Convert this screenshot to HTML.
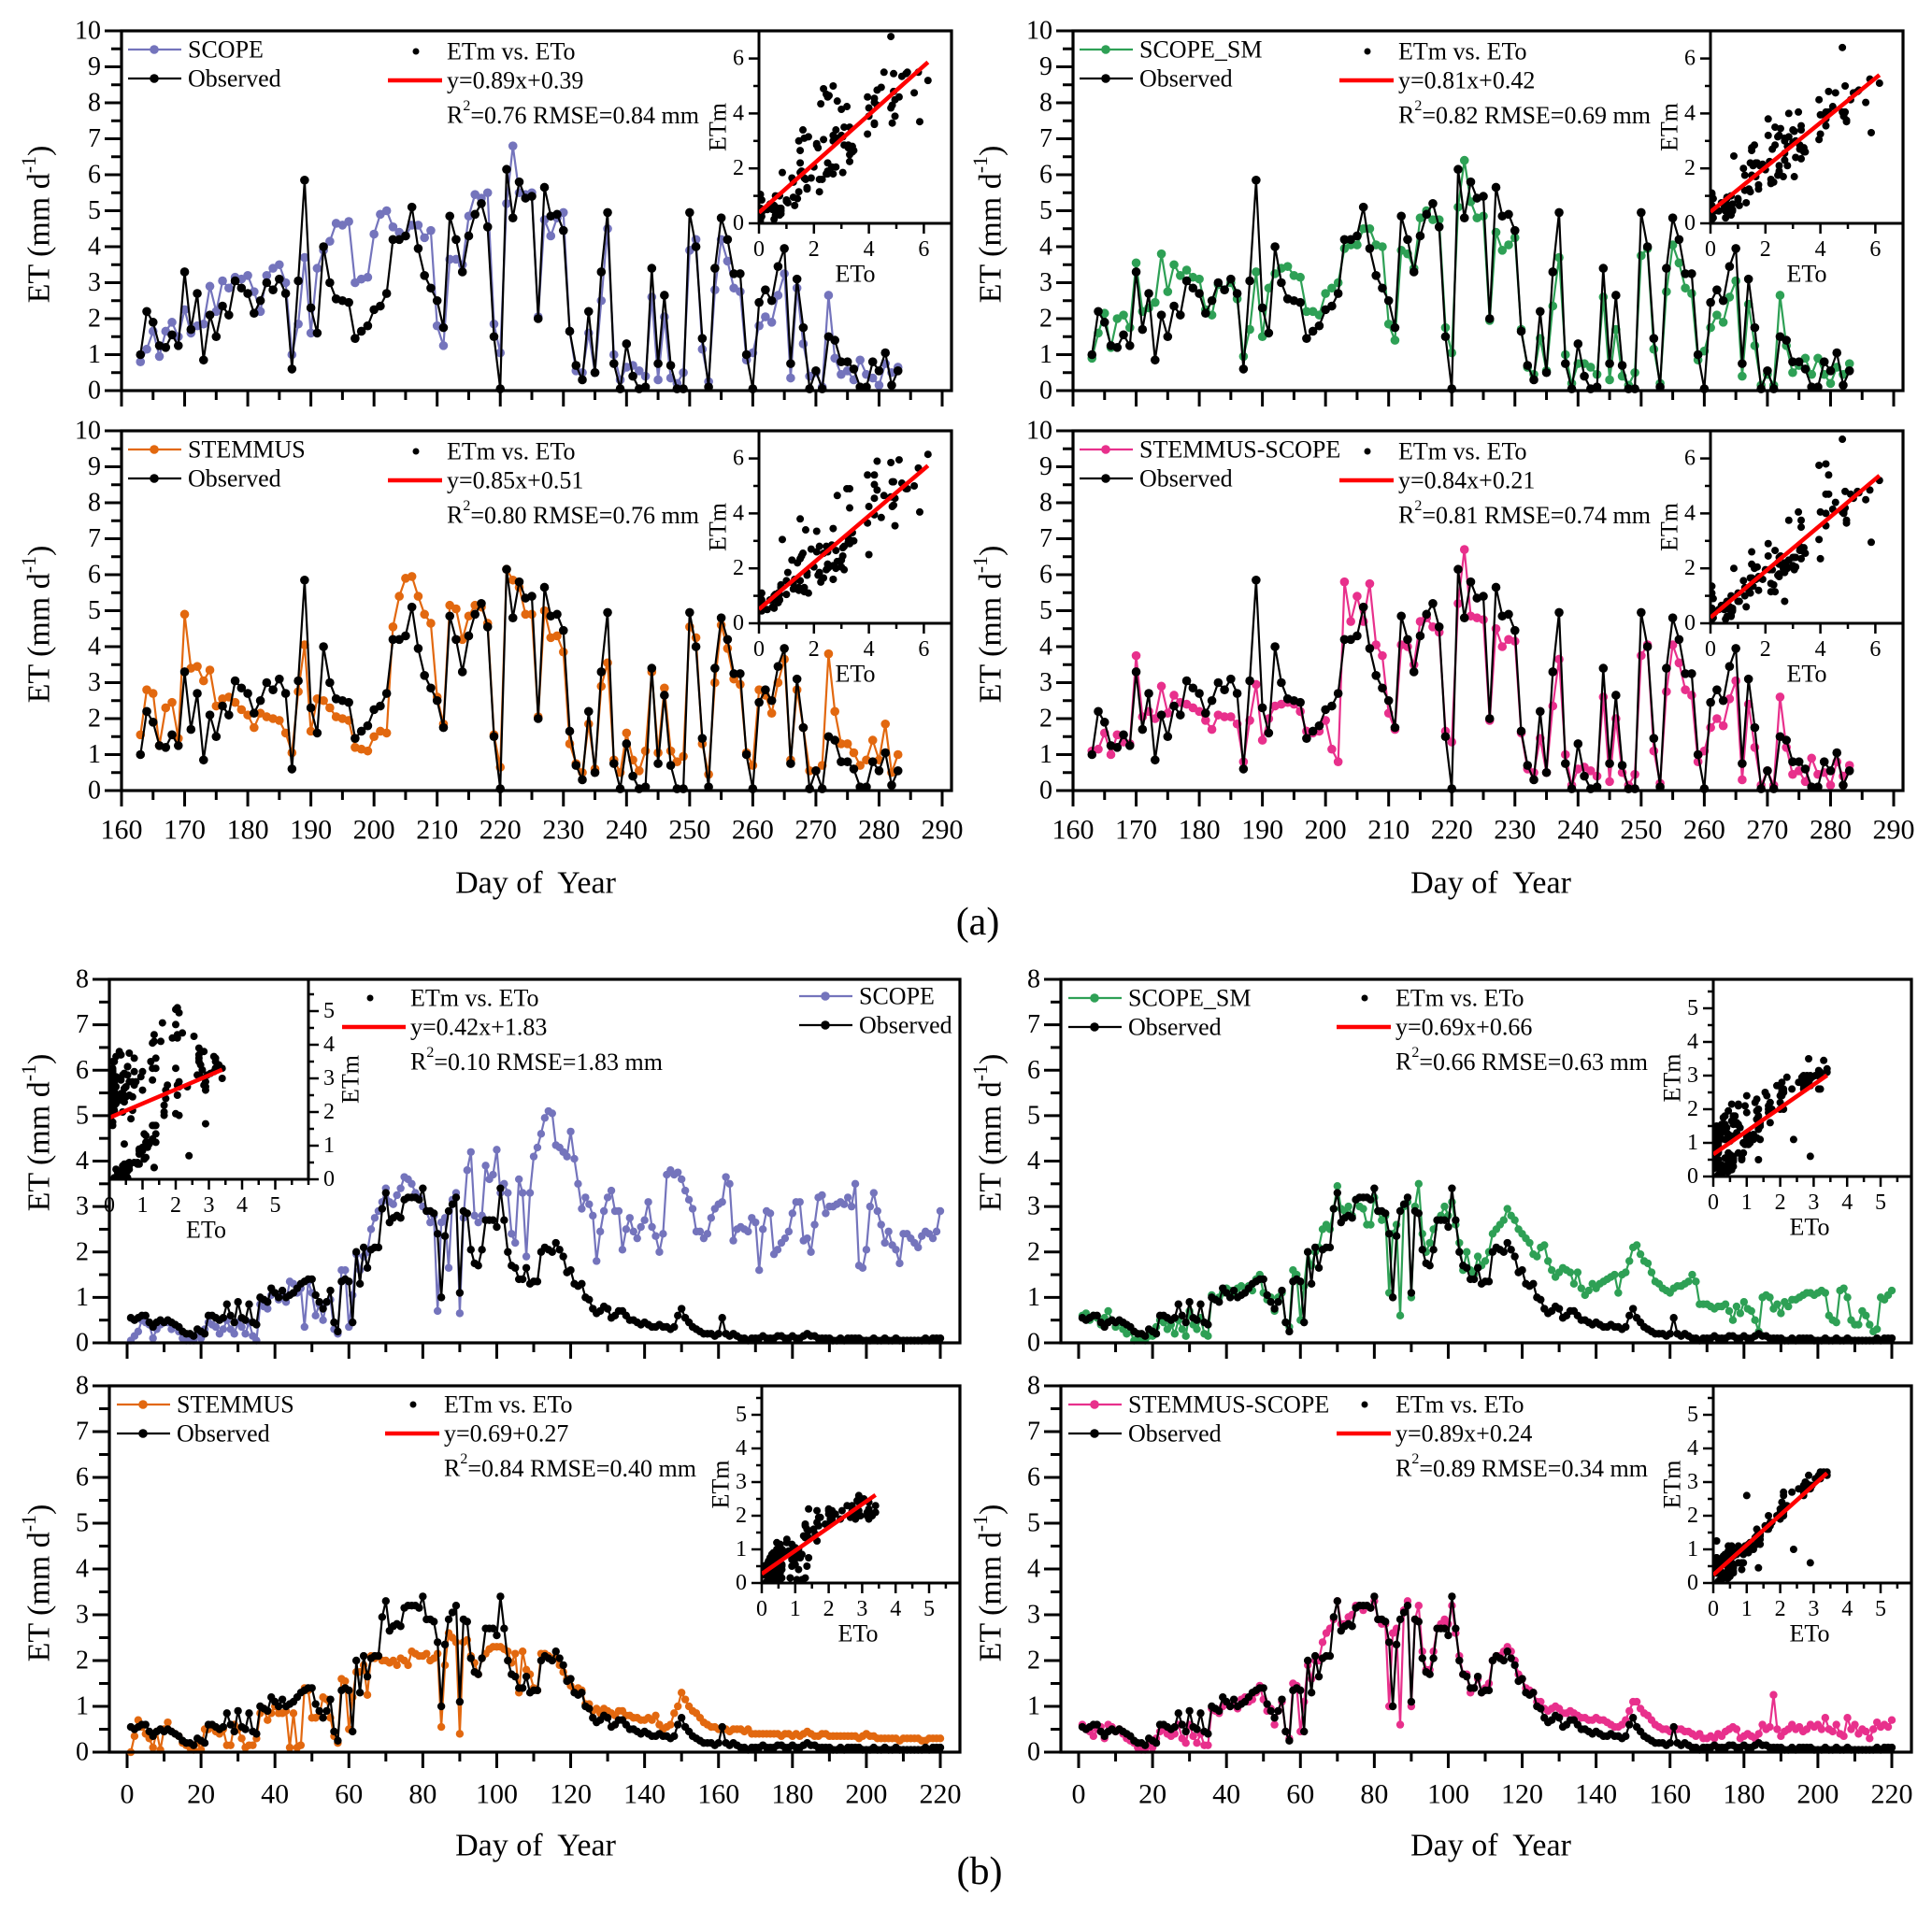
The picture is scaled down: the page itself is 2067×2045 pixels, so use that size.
<!DOCTYPE html>
<html><head><meta charset="utf-8">
<style>
html,body{margin:0;padding:0;background:#fff;}
svg{display:block;font-family:"Liberation Serif","DejaVu Serif",serif;}
svg text{font-family:"Liberation Serif","DejaVu Serif",serif;}
</style></head>
<body>
<svg id="fig" width="2067" height="2045" viewBox="0 0 2067 2045" xmlns="http://www.w3.org/2000/svg" font-family="Liberation Serif, DejaVu Serif, serif"></svg>
<script>
// ---------------- data (a): days 163..283 ----------------
const aStartDay = 163;
const obsA = [1.0,2.2,1.9,1.25,1.2,1.55,1.25,3.3,1.7,2.7,0.85,2.1,1.5,2.35,2.1,3.05,2.85,2.7,2.15,2.5,3.0,2.8,3.1,2.7,0.6,3.05,5.85,2.3,1.6,4.0,3.0,2.55,2.5,2.45,1.45,1.65,1.8,2.25,2.35,2.7,4.2,4.2,4.3,5.1,3.95,3.2,2.85,2.5,1.75,4.85,4.2,3.3,4.3,4.9,5.2,4.55,1.5,0.05,6.15,4.8,5.8,5.35,5.4,2.0,5.65,4.85,4.9,4.45,1.65,0.7,0.3,2.2,0.5,3.3,4.95,0.75,0.05,1.3,0.4,0.05,0.1,3.4,0.75,2.65,0.7,0.05,0.05,4.95,4.0,1.45,0.1,3.4,4.8,4.2,3.25,3.25,1.0,0.05,2.45,2.8,2.5,3.45,3.95,0.75,3.1,1.75,0.05,0.55,0.05,1.5,1.4,0.8,0.8,0.6,0.1,0.1,0.8,0.55,1.05,0.15,0.55];
const scopeA = [0.8,1.15,1.65,0.95,1.65,1.9,1.5,2.25,1.6,1.8,1.85,2.9,2.2,3.05,2.85,3.15,3.1,3.2,2.75,2.2,3.2,3.4,3.5,3.0,1.0,1.85,3.7,1.6,3.4,3.9,4.15,4.65,4.6,4.7,3.0,3.1,3.15,4.35,4.9,5.0,4.55,4.4,4.3,4.6,4.6,4.25,4.45,1.8,1.25,3.65,3.65,3.5,4.85,5.45,5.35,5.5,1.85,1.05,5.2,6.8,5.5,5.45,5.5,2.05,4.75,4.3,4.8,4.95,1.65,0.55,0.5,1.6,0.5,2.5,4.5,1.0,0.3,0.65,0.7,0.55,0.4,2.6,0.3,2.05,0.35,0.2,0.5,3.9,4.2,1.15,0.25,2.8,4.2,3.6,2.85,2.75,0.85,1.05,1.8,2.05,1.9,2.65,3.25,0.35,2.85,1.3,0.4,0.5,0.1,2.65,0.9,0.45,0.55,0.3,0.85,0.45,0.35,0.15,0.75,0.5,0.65];
const scopeSmA = [0.9,1.6,2.15,1.2,2.0,2.1,1.75,3.55,2.2,2.3,2.45,3.8,2.75,3.5,3.2,3.35,3.15,3.1,2.25,2.1,2.95,2.8,3.0,2.55,0.95,1.7,3.3,1.5,2.85,3.25,3.4,3.45,3.2,3.15,2.2,2.2,2.1,2.7,2.85,3.0,3.95,4.05,4.05,4.5,4.5,4.05,4.0,1.85,1.4,3.9,3.8,3.4,4.8,5.0,4.75,4.75,1.75,1.05,5.1,6.4,5.25,4.8,4.85,1.95,4.4,3.9,4.05,4.25,1.7,0.65,0.45,1.45,0.55,2.35,3.7,1.0,0.2,0.75,0.75,0.65,0.45,2.6,0.3,1.7,0.4,0.15,0.5,3.75,3.95,1.15,0.2,2.75,4.05,3.55,2.85,2.7,0.85,1.1,1.75,2.1,1.9,2.6,3.05,0.4,2.4,1.25,0.15,0.45,0.15,2.65,1.25,0.5,0.7,0.9,0.45,0.9,0.45,0.2,0.65,0.45,0.75];
const stemmusA = [1.55,2.8,2.7,1.25,2.3,2.45,1.45,4.9,3.4,3.45,3.05,3.35,2.35,2.55,2.6,2.45,2.25,2.1,1.75,2.15,2.05,2.0,1.95,1.6,1.05,2.75,4.05,1.65,2.55,2.5,2.3,2.05,2.0,1.95,1.2,1.15,1.1,1.5,1.65,1.6,4.55,5.4,5.9,5.95,5.4,4.9,4.65,2.6,1.85,5.15,5.05,4.2,4.85,5.15,5.1,4.65,1.55,0.65,6.15,5.85,5.65,4.9,4.9,2.05,5.0,4.25,4.3,3.85,1.3,0.75,0.5,1.85,0.6,2.9,3.55,0.85,0.5,1.6,0.85,0.55,1.1,3.3,1.05,2.85,1.1,0.8,0.95,4.55,4.25,1.3,0.45,3.0,4.6,3.95,3.1,2.95,1.05,0.7,2.8,2.65,2.15,3.0,3.65,0.85,2.8,1.75,0.55,0.55,0.7,3.8,2.2,1.3,1.3,1.05,0.7,0.85,1.4,0.85,1.85,0.5,1.0];
const ssA = [1.1,1.15,1.6,1.0,1.55,1.35,1.3,3.75,2.05,2.2,2.0,2.9,2.15,2.65,2.45,2.4,2.3,2.2,1.95,1.7,2.1,2.05,2.05,1.85,0.8,1.95,2.95,1.4,2.0,2.35,2.4,2.45,2.4,2.2,1.65,1.6,1.65,1.95,1.15,0.8,5.8,4.7,5.4,4.7,5.75,4.05,3.75,2.15,1.7,4.05,4.0,3.5,4.7,4.8,4.55,4.4,1.65,1.35,5.2,6.7,4.85,4.8,4.75,1.95,4.5,4.0,4.2,4.15,1.6,0.6,0.5,1.45,0.5,2.35,3.65,1.0,0.15,0.6,0.65,0.55,0.4,2.6,0.25,2.0,0.5,0.15,0.45,3.75,4.05,1.1,0.2,2.75,4.05,3.55,2.8,2.65,0.8,1.1,1.75,2.0,1.8,2.55,3.05,0.3,2.4,1.2,0.15,0.55,0.15,2.6,1.2,0.45,0.55,0.25,0.9,0.45,0.5,0.15,0.8,0.4,0.7];

// ---------------- data (b): days 1..220 ----------------
const bStartDay = 1;
const obsB = [0.55,0.5,0.55,0.6,0.6,0.45,0.35,0.45,0.5,0.45,0.5,0.45,0.4,0.35,0.25,0.2,0.2,0.15,0.3,0.25,0.2,0.6,0.6,0.55,0.5,0.55,0.85,0.6,0.45,0.9,0.55,0.5,0.85,0.45,0.4,1.0,0.95,0.9,1.2,1.1,1.0,1.15,1.0,1.05,1.1,1.2,1.3,1.35,1.4,1.4,1.05,0.9,0.75,0.9,1.15,0.45,0.25,1.35,1.4,1.35,0.45,2.0,1.3,2.1,1.65,2.05,2.1,2.1,2.95,3.3,2.65,2.75,2.8,2.75,3.15,3.2,3.2,3.2,3.15,3.4,2.9,2.9,2.85,2.4,1.0,2.35,2.9,3.05,3.2,1.1,2.9,2.85,2.05,1.75,1.7,2.05,2.7,2.7,2.7,2.55,3.4,2.7,2.0,1.7,1.65,1.4,1.4,1.65,1.3,1.35,1.35,2.0,2.1,2.05,2.0,2.2,2.05,1.9,1.55,1.6,1.3,1.25,1.3,1.0,0.95,0.75,0.65,0.7,0.8,0.75,0.55,0.6,0.7,0.7,0.6,0.5,0.5,0.45,0.4,0.45,0.4,0.35,0.35,0.4,0.35,0.35,0.3,0.35,0.6,0.75,0.55,0.45,0.35,0.3,0.25,0.2,0.2,0.2,0.15,0.2,0.55,0.2,0.15,0.2,0.15,0.1,0.1,0.05,0.1,0.1,0.1,0.15,0.1,0.1,0.1,0.15,0.15,0.1,0.1,0.15,0.1,0.1,0.15,0.2,0.15,0.15,0.1,0.1,0.1,0.1,0.05,0.05,0.1,0.05,0.1,0.1,0.1,0.1,0.05,0.05,0.05,0.1,0.05,0.05,0.1,0.05,0.05,0.1,0.05,0.05,0.05,0.05,0.05,0.05,0.05,0.1,0.05,0.1,0.1,0.1];
const scopeB = [0.05,0.15,0.25,0.5,0.45,0.4,0.1,0.3,0.4,0.45,0.45,0.3,0.4,0.25,0.1,0.05,0.05,0.05,0.2,0.1,0.3,0.45,0.4,0.35,0.2,0.3,0.5,0.3,0.2,0.45,0.35,0.2,0.45,0.15,0.05,0.85,0.8,0.75,1.05,1.1,0.95,1.1,0.9,1.35,1.3,1.1,1.2,0.35,1.35,1.1,0.6,0.85,0.5,0.9,0.95,0.3,0.2,1.6,1.6,0.35,1.05,1.95,1.6,1.9,2.0,2.5,2.75,2.9,3.1,3.4,3.1,3.05,3.25,3.4,3.65,3.6,3.5,3.3,3.2,3.0,2.9,2.65,2.8,0.7,2.65,2.75,1.65,3.15,3.3,0.65,2.75,3.8,4.2,2.8,2.65,2.8,3.9,3.6,3.7,4.25,3.3,3.5,3.3,2.4,2.2,3.6,3.3,1.9,3.3,4.1,4.3,4.6,4.95,5.1,5.05,4.35,4.3,4.2,4.1,4.65,4.05,3.5,2.95,3.2,3.05,2.8,1.8,2.45,2.9,3.2,3.35,2.9,2.9,2.05,2.5,2.75,2.45,2.3,2.55,2.7,3.1,2.55,2.35,2.0,2.4,3.7,3.8,3.7,3.75,3.6,3.35,3.15,2.95,2.45,2.45,2.3,2.4,2.75,2.95,3.05,3.1,3.65,3.5,2.25,2.5,2.55,2.5,2.45,2.75,2.65,1.6,2.5,2.9,2.85,1.95,2.05,2.2,2.3,2.45,2.85,3.1,3.1,2.25,2.3,2.0,2.6,3.2,3.25,2.85,3.0,3.0,3.05,3.1,3.05,3.2,3.0,3.5,1.7,1.65,2.05,3.0,3.3,2.9,2.6,2.2,2.45,2.15,2.05,1.75,2.4,2.4,2.3,2.2,2.1,2.35,2.45,2.4,2.3,2.45,2.9];
const scopeSmB = [0.6,0.65,0.5,0.6,0.55,0.4,0.55,0.7,0.5,0.35,0.45,0.3,0.2,0.25,0.05,0.1,0.1,0.05,0.15,0.15,0.35,0.5,0.45,0.3,0.4,0.2,0.5,0.3,0.15,0.7,0.4,0.3,0.55,0.2,0.15,1.05,0.95,1.0,1.1,1.2,1.15,1.1,1.2,1.25,1.2,1.25,1.15,1.4,1.5,1.1,0.95,1.0,0.7,1.0,1.1,0.45,0.35,1.6,1.5,0.5,1.25,2.0,1.7,2.0,2.1,2.5,2.6,2.5,2.95,3.45,2.95,2.9,3.0,2.8,3.15,3.0,2.95,2.6,2.6,3.2,2.9,2.7,2.8,1.1,2.4,2.6,0.6,3.0,3.1,1.0,3.0,3.5,2.4,2.0,2.2,2.5,2.7,2.8,3.0,2.8,3.1,2.6,2.2,1.6,2.0,1.6,1.5,1.9,1.7,1.8,2.0,2.4,2.5,2.6,2.7,2.95,2.8,2.7,2.5,2.4,2.3,2.2,1.95,1.9,2.1,2.15,1.8,1.6,1.45,1.55,1.65,1.6,1.55,1.3,1.55,1.2,1.05,1.15,1.3,1.2,1.3,1.35,1.4,1.45,1.5,1.1,1.5,1.55,1.8,2.1,2.15,1.95,1.8,1.75,1.55,1.35,1.3,1.2,1.15,1.1,1.2,1.25,1.25,1.3,1.35,1.5,1.35,0.85,0.85,0.85,0.8,0.75,0.8,0.8,0.85,0.7,0.5,0.8,0.65,0.9,0.75,0.7,0.5,0.25,1.0,1.05,1.0,0.75,0.85,0.65,0.9,0.8,0.95,0.95,1.0,1.05,1.1,1.1,1.05,1.1,1.15,1.1,0.6,0.5,0.45,1.15,1.2,1.0,0.5,0.4,0.4,0.7,0.6,0.4,0.25,0.3,1.0,0.95,1.05,1.15];
const stemmusB = [0.0,0.35,0.7,0.55,0.4,0.3,0.1,0.45,0.05,0.5,0.65,0.45,0.4,0.35,0.2,0.15,0.1,0.05,0.2,0.05,0.5,0.5,0.55,0.45,0.4,0.5,0.15,0.15,0.6,0.5,0.3,0.1,0.15,0.15,0.3,0.85,0.95,0.7,0.85,1.0,0.85,0.85,0.9,0.1,0.85,0.1,0.15,1.4,1.35,0.75,0.75,0.8,1.2,1.15,0.75,0.35,0.2,1.6,1.55,0.5,1.2,1.75,1.75,1.9,1.25,2.1,2.05,2.1,2.0,2.0,1.95,2.0,1.9,2.05,2.0,1.9,2.2,2.15,2.1,2.1,2.15,2.0,2.05,2.15,0.55,1.9,2.6,2.5,2.4,0.4,2.4,2.45,2.1,1.95,1.7,2.05,2.15,2.25,2.3,2.3,2.3,2.25,2.2,1.95,2.15,1.3,2.2,1.8,1.7,1.4,1.35,2.15,2.15,2.1,2.05,2.05,1.9,1.75,1.6,1.45,1.35,1.4,1.35,1.05,1.05,0.9,0.95,0.85,0.95,0.9,0.85,0.8,0.9,0.9,0.8,0.8,0.75,0.75,0.7,0.7,0.75,0.7,0.8,0.6,0.5,0.55,0.6,0.85,1.0,1.3,1.15,1.0,0.9,0.85,0.75,0.65,0.6,0.55,0.55,0.5,0.5,0.5,0.45,0.5,0.5,0.5,0.45,0.5,0.4,0.4,0.4,0.4,0.4,0.4,0.4,0.4,0.35,0.4,0.4,0.35,0.4,0.35,0.4,0.45,0.4,0.35,0.35,0.4,0.4,0.35,0.35,0.35,0.35,0.35,0.35,0.35,0.35,0.3,0.35,0.4,0.35,0.35,0.3,0.3,0.3,0.3,0.3,0.3,0.25,0.3,0.3,0.3,0.3,0.3,0.25,0.25,0.3,0.3,0.3,0.3];
const ssB = [0.6,0.5,0.45,0.35,0.5,0.55,0.3,0.6,0.55,0.45,0.5,0.4,0.3,0.25,0.2,0.1,0.05,0.05,0.15,0.1,0.3,0.45,0.5,0.4,0.35,0.4,0.6,0.3,0.2,0.6,0.35,0.2,0.4,0.15,0.15,0.95,0.9,0.85,1.0,1.05,1.0,1.05,0.95,1.15,1.2,1.1,1.15,1.3,1.45,1.15,0.9,0.95,0.6,0.9,1.1,0.45,0.3,1.5,1.45,0.45,1.1,1.9,1.6,2.0,2.0,2.4,2.6,2.7,2.9,3.3,2.8,2.8,2.95,3.0,3.2,3.2,3.1,3.2,3.15,3.3,2.9,2.8,2.8,1.0,2.6,2.7,0.6,3.1,3.3,1.0,2.9,3.2,2.2,1.8,1.8,2.2,2.7,2.8,2.9,2.8,3.2,2.6,2.1,1.7,1.7,1.3,1.4,1.6,1.3,1.4,1.5,2.0,2.1,2.1,2.2,2.3,2.2,2.0,1.7,1.6,1.4,1.35,1.3,1.1,1.1,0.95,0.9,0.95,1.0,0.95,0.85,0.85,0.9,0.85,0.8,0.75,0.75,0.7,0.7,0.75,0.7,0.7,0.65,0.6,0.55,0.55,0.6,0.7,0.9,1.1,1.1,0.95,0.85,0.8,0.7,0.6,0.55,0.5,0.5,0.45,0.5,0.5,0.5,0.45,0.45,0.4,0.35,0.4,0.3,0.3,0.35,0.3,0.4,0.35,0.45,0.5,0.55,0.5,0.3,0.35,0.4,0.35,0.3,0.4,0.6,0.5,0.55,1.25,0.5,0.35,0.45,0.5,0.6,0.5,0.55,0.45,0.5,0.6,0.55,0.6,0.5,0.75,0.5,0.45,0.6,0.4,0.35,0.75,0.5,0.6,0.4,0.5,0.45,0.3,0.5,0.65,0.55,0.6,0.55,0.7];

// fit statistics per panel
const fitSlopes = [0.89,0.81,0.85,0.84,0.42,0.69,0.69,0.89];
const fitIntercepts = [0.39,0.42,0.51,0.21,1.83,0.66,0.27,0.24];
const fitLabels = ["y=0.89x+0.39","y=0.81x+0.42","y=0.85x+0.51","y=0.84x+0.21","y=0.42x+1.83","y=0.69x+0.66","y=0.69+0.27","y=0.89x+0.24"];
const r2Labels = ["0.76","0.82","0.80","0.81","0.10","0.66","0.84","0.89"];
const rmseLabels = ["0.84","0.69","0.76","0.74","1.83","0.63","0.40","0.34"];
const modelNames = ["SCOPE","SCOPE_SM","STEMMUS","STEMMUS-SCOPE","SCOPE","SCOPE_SM","STEMMUS","STEMMUS-SCOPE"];

// ticks
const xTicksA = [160,170,180,190,200,210,220,230,240,250,260,270,280,290];
const yTicksA = [0,1,2,3,4,5,6,7,8,9,10];
const xTicksB = [0,20,40,60,80,100,120,140,160,180,200,220];
const yTicksB = [0,1,2,3,4,5,6,7,8];
const insetTicksA = [0,2,4,6];
const insetTicksB = [0,1,2,3,4,5];

// ---------------- rendering ----------------
const NS = "http://www.w3.org/2000/svg";
const SERIF = '"Liberation Serif","DejaVu Serif",serif';
const svg = document.getElementById('fig');
const colors = {SCOPE:"#7474bc", SCOPE_SM:"#2ea055", STEMMUS:"#e2680f", "STEMMUS-SCOPE":"#e8308c"};
const FONT_TICK = 25;

function mk(tag, attrs, parent) {
  const e = document.createElementNS(NS, tag);
  for (const k in attrs) e.setAttribute(k, attrs[k]);
  if (tag === 'text') e.style.fontFamily = SERIF;
  (parent || svg).appendChild(e);
  return e;
}
function txt(s, x, y, size, anchor, parent) {
  const t = mk('text', {x:x, y:y, 'font-size':size, 'text-anchor':anchor||'start', 'dominant-baseline':'central', fill:'#000'}, parent);
  t.textContent = s;
  return t;
}

const modelsA = [scopeA, scopeSmA, stemmusA, ssA];
const modelsB = [scopeB, scopeSmB, stemmusB, ssB];

function drawPanel(idx) {
  const isA = idx < 4;
  const col = idx % 2;
  const row = Math.floor((idx % 4) / 2);
  const off = col * 1018;
  const g = mk('g', {});
  
  

  let fl, fr, ft, fb, X, Y, xTicks, yTicks, yMax, minorX;
  if (isA) {
    fl = 130 + off; fr = 1018 + off;
    ft = row === 0 ? 33 : 461; fb = row === 0 ? 418 : 846;
    X = d => 130 + off + (d - 160) * (878 / 130);
    yMax = 10; xTicks = xTicksA; yTicks = yTicksA; minorX = 5;
  } else {
    fl = 117 + off; fr = 1027 + off;
    ft = row === 0 ? 1048 : 1483; fb = row === 0 ? 1437 : 1875;
    X = d => 136 + off + d * (870 / 220);
    yMax = 8; xTicks = xTicksB; yTicks = yTicksB; minorX = 10;
  }
  Y = v => fb - v * (fb - ft) / yMax;

  const yTickG = mk('g', {}, g);
  
  
  for (let v = 0; v <= yMax + 1e-9; v += 0.5) {
    const major = Math.abs(v - Math.round(v)) < 1e-9;
    mk('line', {x1: fl - (major ? 18 : 11), x2: fl, y1: Y(v), y2: Y(v), stroke:'#000', 'stroke-width':3}, yTickG);
  }
  yTicks.forEach(v => {
    const t = txt(String(v), fl - 22, Y(v), FONT_TICK + 3, 'end', yTickG);
    
    
  });
  const xTickG = mk('g', {}, g);
  
  
  const x0 = xTicks[0], x1 = xTicks[xTicks.length - 1];
  for (let d = x0; d <= x1; d += minorX) {
    const major = (d - x0) % (minorX * 2) === 0;
    mk('line', {x1: X(d), x2: X(d), y1: fb, y2: fb + (major ? 17 : 10), stroke:'#000', 'stroke-width':3}, xTickG);
  }
  if (row === 1) {
    xTicks.forEach(d => {
      const t = txt(String(d), X(d), isA ? 888 : 1920, 30, 'middle', xTickG);
      
      
    });
  }
  const cy = isA ? (row === 0 ? 240 : 668) : (row === 0 ? 1212 : 1694);
  const yt = mk('text', {x:0, y:0, 'font-size':34, 'text-anchor':'middle', 'dominant-baseline':'central', transform:'translate(' + (42 + off) + ',' + cy + ') rotate(-90)'}, g);
  
  
  yt.innerHTML = 'ET (mm d<tspan dy="-12" font-size="22">-1</tspan><tspan dy="12">)</tspan>';

  const model = isA ? modelsA[idx] : modelsB[idx - 4];
  const obs = isA ? obsA : obsB;
  const start = isA ? aStartDay : bStartDay;
  const mcol = colors[modelNames[idx]];
  const rr = isA ? 4.8 : 4.2;
  function series(arr, color, name) {
    const sg = mk('g', {}, g);
    
    
    const pts = arr.map((v, i) => X(start + i).toFixed(1) + ',' + Y(v).toFixed(1)).join(' ');
    mk('polyline', {points: pts, fill:'none', stroke: color, 'stroke-width': 2.2, 'stroke-linejoin':'round'}, sg);
    arr.forEach((v, i) => {
      const c = mk('circle', {cx: X(start + i), cy: Y(v), r: rr, fill: color}, sg);
      
      
    });
  }
  series(model, mcol, 'model-series');
  series(obs, '#000', 'observed-series');

  let il, ir, it, ib, sx, sy, itks, labelsRight;
  if (isA) {
    il = 812 + off; ir = 1018 + off; it = ft; ib = ft + 206; sx = 29.4; sy = 29.4; itks = insetTicksA; labelsRight = false;
  } else if (idx === 4) {
    il = 117; ir = 330; it = ft; ib = 1262; sx = 35.5; sy = 36; itks = insetTicksB; labelsRight = true;
  } else {
    il = 815 + off; ir = 1027 + off; it = ft; ib = ft + 211; sx = 35.8; sy = 36; itks = insetTicksB; labelsRight = false;
  }
  const ig = mk('g', {}, g);
  
  
  mk('rect', {x: il, y: it, width: ir - il, height: ib - it, fill:'#fff', stroke:'#000', 'stroke-width':3}, ig);
  const clipId = 'clip' + idx;
  const cp = mk('clipPath', {id: clipId}, ig);
  mk('rect', {x: il, y: it, width: ir - il, height: ib - it}, cp);
  const IX = v => il + v * sx;
  const IY = v => ib - v * sy;
  const sg = mk('g', {'clip-path': 'url(#' + clipId + ')'}, ig);
  obs.forEach((o, i) => {
    const c = mk('circle', {cx: IX(o), cy: IY(model[i]), r: 4, fill:'#000'}, sg);
    
    
  });
  const omax = Math.max.apply(null, obs);
  const fitL = mk('line', {x1: IX(0), y1: IY(fitIntercepts[idx]), x2: IX(omax), y2: IY(fitSlopes[idx] * omax + fitIntercepts[idx]), stroke:'#f00', 'stroke-width':4.5}, sg);
  
  
  const yAxisX = labelsRight ? ir : il;
  const dir = labelsRight ? 1 : -1;
  const step = isA ? 1 : 0.5;
  const ymaxI = (ib - it) / sy, xmaxI = (ir - il) / sx;
  for (let v = 0; v <= ymaxI + 1e-9; v += step) {
    const major = itks.indexOf(Math.round(v * 10) / 10) >= 0;
    mk('line', {x1: yAxisX, x2: yAxisX + dir * (major ? 11 : 6), y1: IY(v), y2: IY(v), stroke:'#000', 'stroke-width':2.5}, ig);
  }
  for (let v = 0; v <= xmaxI + 1e-9; v += step) {
    const major = itks.indexOf(Math.round(v * 10) / 10) >= 0;
    mk('line', {x1: IX(v), x2: IX(v), y1: ib, y2: ib + (major ? 11 : 6), stroke:'#000', 'stroke-width':2.5}, ig);
  }
  itks.forEach(v => {
    txt(String(v), yAxisX + dir * 16, IY(v), 24, labelsRight ? 'start' : 'end', ig);
    txt(String(v), IX(v), ib + 28, 24, 'middle', ig);
  });
  const etmX = labelsRight ? ir + 45 : il - 44;
  const et = mk('text', {x:0, y:0, 'font-size':26, 'text-anchor':'middle', 'dominant-baseline':'central', transform:'translate(' + etmX + ',' + ((it + ib) / 2) + ') rotate(-90)'}, ig);
  et.textContent = 'ETm';
  txt('ETo', labelsRight ? (il + ir) / 2 - 3 : il + 103, ib + 54, 26, 'middle', ig);

  const fr_ = mk('rect', {x: fl, y: ft, width: fr - fl, height: fb - ft, fill:'none', stroke:'#000', 'stroke-width':3.2}, g);
  
  

  const lg = mk('g', {}, g);
  
  
  let lx0, ly0;
  if (idx === 4) { lx0 = 855; ly0 = 1066; }
  else if (isA) { lx0 = 137 + off; ly0 = ft + 20; }
  else { lx0 = 125 + off; ly0 = ft + 20; }
  [[modelNames[idx], mcol], ['Observed', '#000']].forEach((e, k) => {
    const y = ly0 + k * 31;
    const le = mk('g', {}, lg);
    
    
    mk('line', {x1: lx0, x2: lx0 + 57, y1: y, y2: y, stroke: e[1], 'stroke-width':2.2}, le);
    mk('circle', {cx: lx0 + 28, cy: y, r: 4.8, fill: e[1]}, le);
    txt(e[0], lx0 + 64, y, 26, 'start', le);
  });
  let dotX, textX, sy0;
  if (isA) { dotX = 445 + off; textX = 478 + off; sy0 = ft + 22; }
  else if (idx === 4) { dotX = 396; textX = 439; sy0 = 1068; }
  else { dotX = 442 + off; textX = 475 + off; sy0 = ft + 20; }
  const st = mk('g', {}, g);
  
  
  mk('circle', {cx: dotX, cy: sy0, r: 3.5, fill:'#000'}, st);
  txt('ETm vs. ETo', textX, sy0, 26, 'start', st);
  mk('line', {x1: dotX - 30, x2: textX - 5, y1: sy0 + 31, y2: sy0 + 31, stroke:'#f00', 'stroke-width':4.5}, st);
  txt(fitLabels[idx], textX, sy0 + 31, 26, 'start', st);
  const r2 = txt('', textX, sy0 + 68, 26, 'start', st);
  r2.innerHTML = 'R<tspan dy="-10" font-size="16">2</tspan><tspan dy="10">=' + r2Labels[idx] + ' RMSE=' + rmseLabels[idx] + ' mm</tspan>';
}

for (let i = 0; i < 8; i++) drawPanel(i);

[[573, 945], [1595, 945], [573, 1975], [1595, 1975]].forEach(p => {
  const t = txt('Day of\u00a0 Year', p[0], p[1], 34, 'middle');
  
  
});
const la = txt('(a)', 1046, 987, 42, 'middle');


const lb = txt('(b)', 1048, 2003, 42, 'middle');


</script>
</body></html>
